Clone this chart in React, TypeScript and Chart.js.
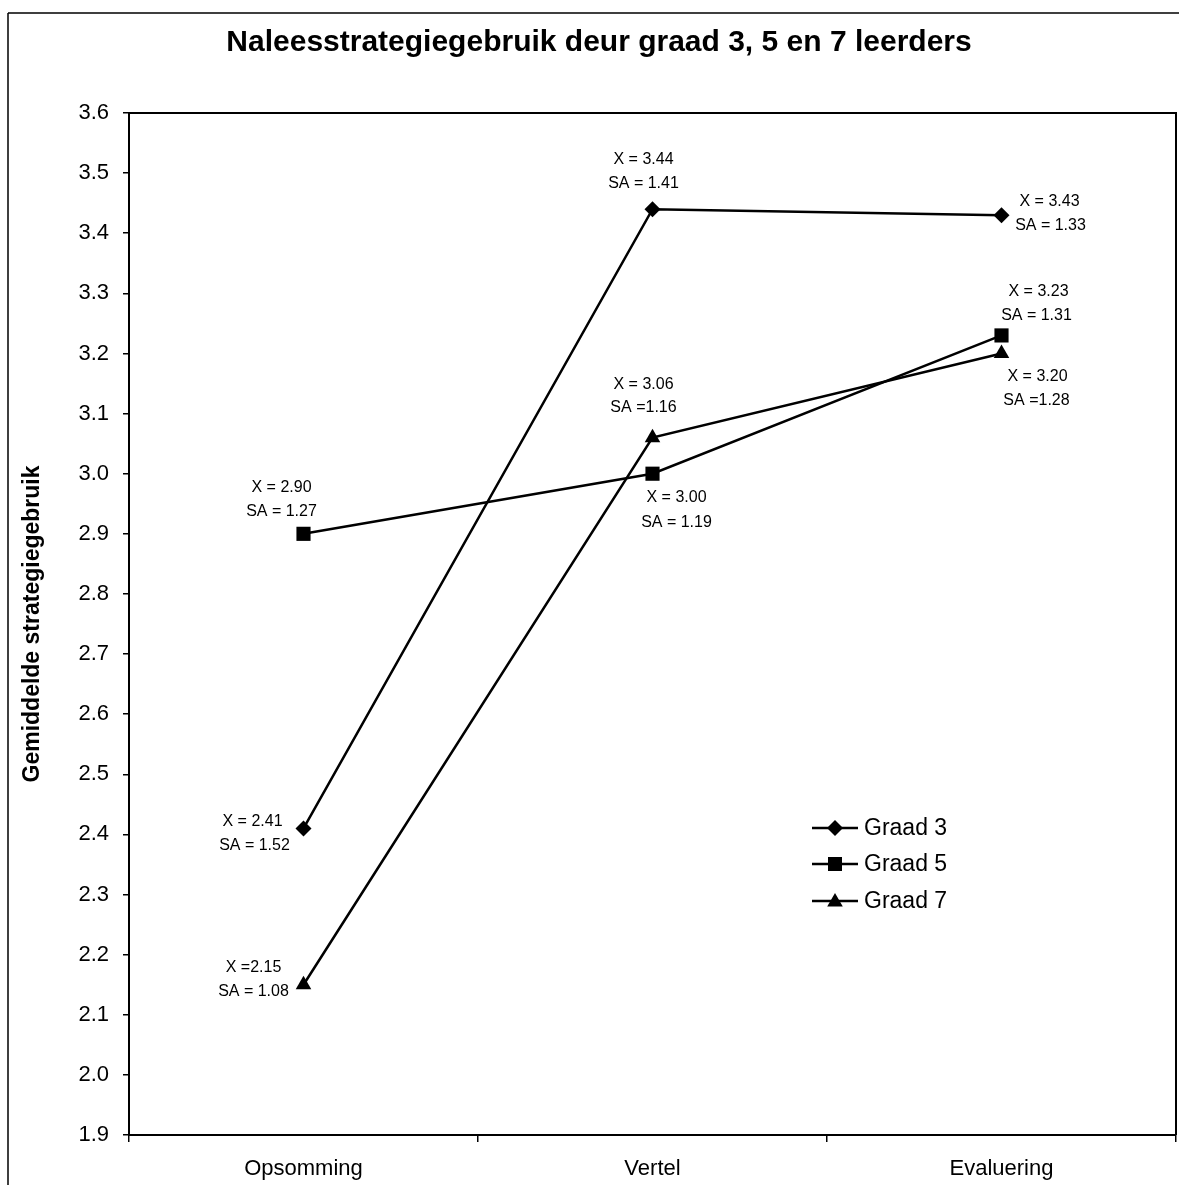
import React, { useEffect, useRef } from 'react';
import { Chart, registerables } from 'chart.js';

Chart.register(...registerables);

const chartTitle = 'Naleesstrategiegebruik deur graad 3, 5 en 7 leerders';
const yAxisTitle = 'Gemiddelde strategiegebruik';
const categories = ['Opsomming', 'Vertel', 'Evaluering'];
const seriesNames = ['Graad 3', 'Graad 5', 'Graad 7'];
const graad3 = [2.41, 3.44, 3.43];
const graad5 = [2.9, 3.0, 3.23];
const graad7 = [2.15, 3.06, 3.2];
const meanText3 = ['X = 2.41', 'X = 3.44', 'X = 3.43'];
const meanText5 = ['X = 2.90', 'X = 3.00', 'X = 3.23'];
const meanText7 = ['X =2.15', 'X = 3.06', 'X = 3.20'];
const sdText3 = ['SA = 1.52', 'SA = 1.41', 'SA = 1.33'];
const sdText5 = ['SA = 1.27', 'SA = 1.19', 'SA = 1.31'];
const sdText7 = ['SA = 1.08', 'SA =1.16', 'SA =1.28'];
const yMin = 1.9;
const yMax = 3.6;
const yStep = 0.1;

const FONT = "'Liberation Sans', Arial, Helvetica, sans-serif";

// label offsets (relative to each point): [dxMean, dyMean, dxSd, dySd]
const labelOffsets = [
  [[-51, -7, -49, 17], [-9, -50, -9, -26], [48, -14, 49, 10]],
  [[-22, -46, -22, -22], [24, 24, 24, 49], [37, -44, 35, -20]],
  [[-50, -17, -50, 7], [-9, -53, -9, -30], [36, 23, 35, 47]],
];
const pointStyles = ['rectRot', 'rect', 'triangle'];

function drawMarker(ctx: CanvasRenderingContext2D, style: string, x: number, y: number) {
  ctx.beginPath();
  if (style === 'rectRot') {
    const r = 8;
    ctx.moveTo(x, y - r);
    ctx.lineTo(x + r, y);
    ctx.lineTo(x, y + r);
    ctx.lineTo(x - r, y);
  } else if (style === 'rect') {
    const s = 7;
    ctx.rect(x - s, y - s, 2 * s, 2 * s);
  } else {
    const r = 9;
    for (let k = 0; k < 3; k++) {
      const a = (k * 2 * Math.PI) / 3;
      const px = x + Math.sin(a) * r;
      const py = y - Math.cos(a) * r + 1;
      if (k === 0) ctx.moveTo(px, py);
      else ctx.lineTo(px, py);
    }
  }
  ctx.closePath();
  ctx.fill();
}

const decorPlugin = {
  id: 'decor',
  afterDraw(chart: any) {
    const ctx: CanvasRenderingContext2D = chart.ctx;
    const { chartArea } = chart;
    ctx.save();
    ctx.strokeStyle = '#000';
    ctx.fillStyle = '#000';

    // outer frame
    ctx.lineWidth = 1.5;
    ctx.beginPath();
    ctx.moveTo(8, 13);
    ctx.lineTo(1179, 13);
    ctx.moveTo(8, 13);
    ctx.lineTo(8, 1185);
    ctx.stroke();

    // plot area top & right border
    ctx.lineWidth = 2;
    ctx.beginPath();
    ctx.moveTo(chartArea.left, chartArea.top);
    ctx.lineTo(chartArea.right, chartArea.top);
    ctx.lineTo(chartArea.right, chartArea.bottom);
    ctx.stroke();

    // title
    ctx.font = `bold 30px ${FONT}`;
    ctx.textAlign = 'center';
    ctx.textBaseline = 'middle';
    ctx.fillText(chartTitle, 599, 43);

    // point annotations
    const means = [meanText3, meanText5, meanText7];
    const sds = [sdText3, sdText5, sdText7];
    ctx.font = `16px ${FONT}`;
    for (let i = 0; i < 3; i++) {
      const meta = chart.getDatasetMeta(i);
      meta.data.forEach((pt: any, j: number) => {
        const o = labelOffsets[i][j];
        ctx.fillText(means[i][j], pt.x + o[0], pt.y + o[1]);
        ctx.fillText(sds[i][j], pt.x + o[2], pt.y + o[3]);
      });
    }

    // legend
    const rowsY = [828, 864, 901];
    ctx.font = `23px ${FONT}`;
    ctx.textAlign = 'left';
    for (let i = 0; i < 3; i++) {
      const y = rowsY[i];
      ctx.lineWidth = 2.5;
      ctx.beginPath();
      ctx.moveTo(812, y);
      ctx.lineTo(858, y);
      ctx.stroke();
      drawMarker(ctx, pointStyles[i], 835, y);
      ctx.fillText(seriesNames[i], 864, y + 1);
    }
    ctx.restore();
  },
};

export default function App() {
  const ref = useRef<HTMLCanvasElement>(null);
  useEffect(() => {
    const canvas = ref.current;
    if (!canvas) return;
    const mk = (i: number, data: number[], style: string, radius: number) => ({
      label: seriesNames[i],
      data,
      borderColor: '#000',
      backgroundColor: '#000',
      pointBackgroundColor: '#000',
      pointBorderColor: '#000',
      pointBorderWidth: 0,
      borderWidth: 2.5,
      pointStyle: style as any,
      pointRadius: radius,
      tension: 0,
      clip: false as any,
    });
    const chart = new Chart(canvas, {
      type: 'line',
      data: {
        labels: categories,
        datasets: [
          mk(0, graad3, 'rectRot', 8),
          mk(1, graad5, 'rect', 10),
          mk(2, graad7, 'triangle', 9),
        ],
      },
      options: {
        responsive: false,
        animation: false,
        layout: { autoPadding: false, padding: { top: 113, right: 3, left: 0, bottom: 0 } },
        plugins: {
          legend: { display: false },
          title: { display: false },
          tooltip: { enabled: false },
        },
        scales: {
          x: {
            type: 'category',
            offset: true,
            grid: {
              offset: true,
              drawOnChartArea: false,
              drawTicks: true,
              tickLength: 7,
              color: '#000',
              lineWidth: 1.5,
            },
            border: { display: true, color: '#000', width: 2 },
            ticks: {
              color: '#000',
              font: { family: FONT, size: 22 },
              padding: 14,
              maxRotation: 0,
            },
            afterFit: (s: any) => {
              s.height = 50;
              s.paddingLeft = 0;
              s.paddingRight = 0;
            },
          },
          y: {
            type: 'linear',
            min: yMin,
            max: yMax,
            ticks: {
              stepSize: yStep,
              callback: (v: any) => Number(v).toFixed(1),
              color: '#000',
              font: { family: FONT, size: 22 },
              padding: 14,
            },
            grid: {
              drawOnChartArea: false,
              drawTicks: true,
              tickLength: 6,
              color: '#000',
              lineWidth: 1.5,
            },
            border: { display: true, color: '#000', width: 2 },
            title: {
              display: true,
              text: yAxisTitle,
              color: '#000',
              font: { family: FONT, size: 23, weight: 'bold' },
              padding: { top: 19, bottom: 0 },
            },
            afterFit: (s: any) => {
              s.width = 129;
            },
          },
        },
      },
      plugins: [decorPlugin],
    });
    return () => chart.destroy();
  }, []);
  return (
    <canvas
      ref={ref}
      width={1179}
      height={1185}
      style={{ position: 'fixed', left: 0, top: 0, width: 1179, height: 1185, background: '#fff' }}
    />
  );
}
